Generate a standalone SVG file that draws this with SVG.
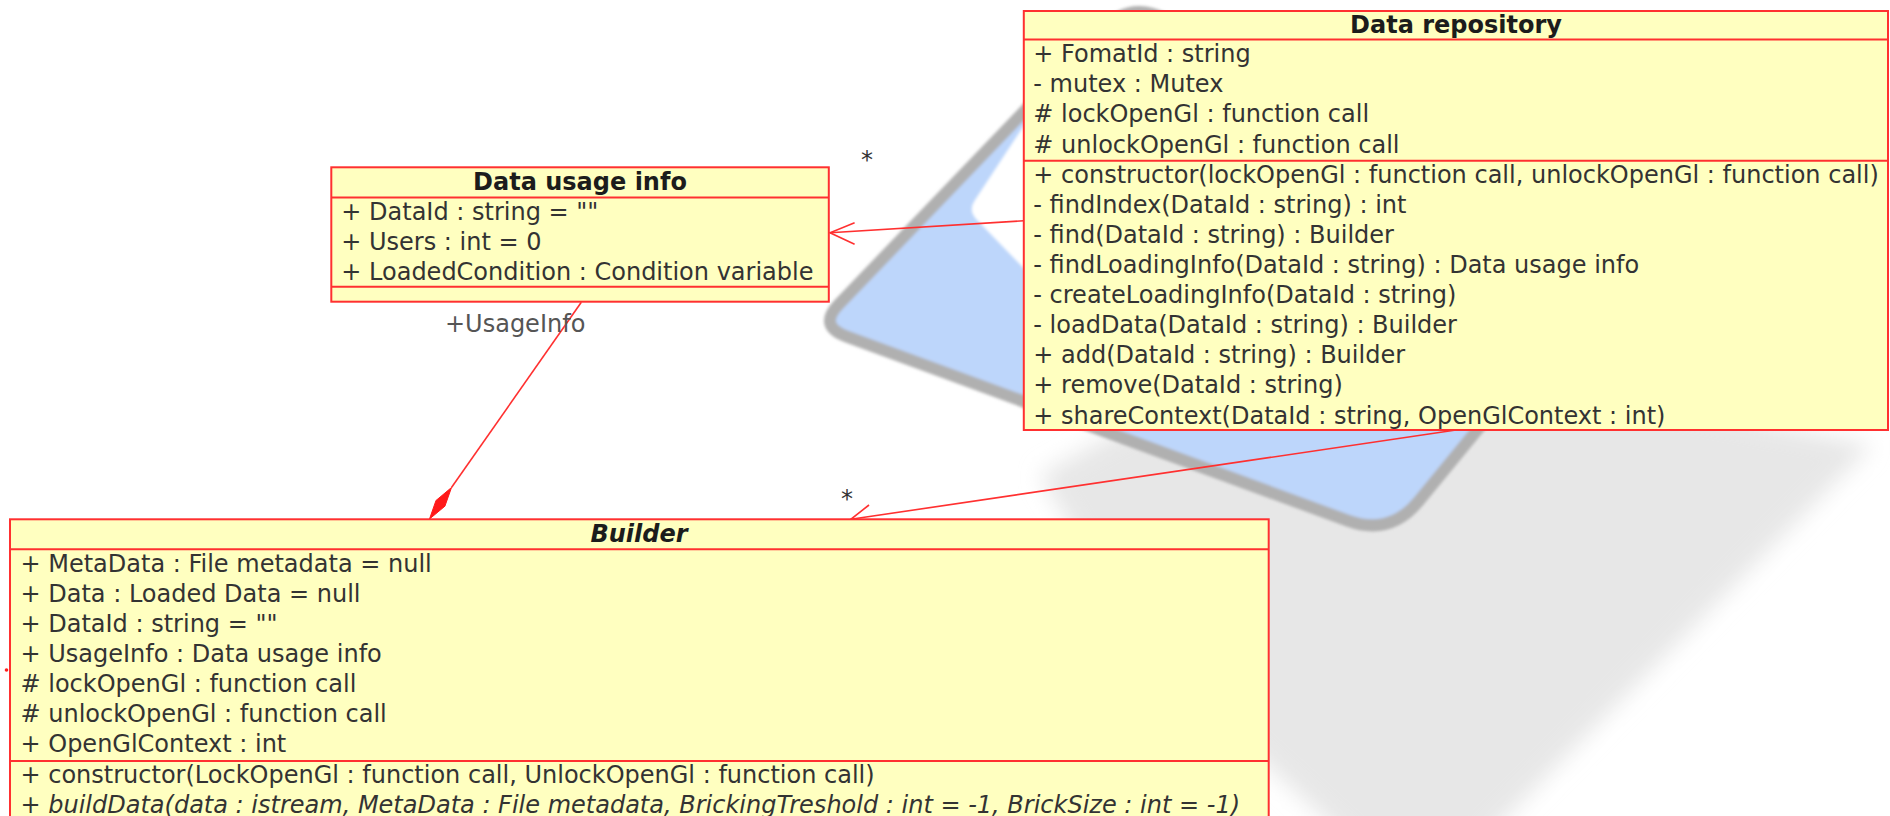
<svg xmlns="http://www.w3.org/2000/svg" width="1890" height="816" viewBox="0 0 1890 816">
  <style>
    .box { fill: #ffffc0; stroke: #ff3030; stroke-width: 2; }
    .sep { stroke: #ff3030; stroke-width: 2; }
    .txt { font-family: "DejaVu Sans", sans-serif; font-size: 24px; fill: #333333; }
    .ttl { font-family: "DejaVu Sans", sans-serif; font-size: 24px; font-weight: bold; fill: #1c1c1c; text-anchor: middle; }
    .abs { font-style: italic; }
    .edge { fill: none; stroke: #ff3030; stroke-width: 1.6; }
    .lbl { font-family: "DejaVu Sans", sans-serif; font-size: 24px; fill: #555555; }
    .mult { font-family: "DejaVu Sans", sans-serif; font-size: 24px; fill: #333333; text-anchor: middle; }
  </style>
  <defs>
    <filter id="soft" x="-20%" y="-20%" width="140%" height="140%">
      <feGaussianBlur stdDeviation="11"/>
    </filter>
    <filter id="edgeBlur" x="-10%" y="-10%" width="120%" height="120%">
      <feGaussianBlur stdDeviation="1.8"/>
    </filter>
  </defs>

  <rect width="1890" height="816" fill="#ffffff"/>

  <!-- background emblem: soft shadow, blue rounded frame, inner cut-out -->
  <g id="backdrop">
    <path d="M 1040,475 L 1300,330 L 1872,445 L 1420,905 L 1150,660 Z" fill="#e7e7e7" filter="url(#soft)"/>
    <path d="M 838.8,304.4 L 1102.4,30 Q 1130,1 1165.6,19.2 L 1625,250 L 1418.6,501.2 Q 1390,536 1347.7,520.6 L 846.2,336.3 Q 818,326 838.8,304.4 Z"
          fill="#bdd6fb" stroke="#b0b0b0" stroke-width="12" filter="url(#edgeBlur)"/>
    <path d="M 1040,101 L 975,200 Q 968,210 976,219 L 1040,285 Z" fill="#ffffff" filter="url(#edgeBlur)"/>
  </g>

  <!-- associations -->
  <g id="connectors">
    <!-- Data repository -> Data usage info -->
    <line class="edge" x1="1023.8" y1="220.8" x2="830" y2="232.7"/>
    <polyline class="edge" points="854.6,222.7 830,232.7 854.6,244.2"/>
    <text class="mult" x="867" y="168">*</text>
    <!-- Data repository -> Builder -->
    <line class="edge" x1="1456" y1="430" x2="850.8" y2="519.3"/>
    <polyline class="edge" points="869,505 850.8,519.3 872.3,527.7"/>
    <text class="mult" x="847" y="507">*</text>
    <!-- Builder composes Data usage info -->
    <line class="edge" x1="581.3" y1="302.3" x2="451.5" y2="487.5"/>
    <polygon points="429.5,519 436,500.5 451.5,487.5 444.9,506.2" fill="#ff1a1a" stroke="#ff1a1a" stroke-width="1"/>
    <text class="lbl" x="445" y="332">+UsageInfo</text>
    <!-- stray end point at the Builder's left side -->
    <circle cx="6.5" cy="670" r="1.8" fill="#ff2020"/>
  </g>

  <g id="data-usage-info">
    <rect class="box" x="331.3" y="167.3" width="497.5" height="134.4"/>
    <line class="sep" x1="331.3" y1="197.4" x2="828.8" y2="197.4"/>
    <line class="sep" x1="331.3" y1="286.7" x2="828.8" y2="286.7"/>
    <text class="ttl" x="580" y="190">Data usage info</text>
    <text class="txt" x="341.3" y="219.5">+ DataId : string = &quot;&quot;</text>
    <text class="txt" x="341.3" y="249.6">+ Users : int = 0</text>
    <text class="txt" x="341.3" y="279.7">+ LoadedCondition : Condition variable</text>
  </g>

  <g id="data-repository">
    <rect class="box" x="1023.8" y="11" width="864.2" height="419"/>
    <line class="sep" x1="1023.8" y1="39.4" x2="1888" y2="39.4"/>
    <line class="sep" x1="1023.8" y1="160.7" x2="1888" y2="160.7"/>
    <text class="ttl" x="1456" y="33">Data repository</text>
    <text class="txt" x="1033.3" y="62.1">+ FomatId : string</text>
    <text class="txt" x="1033.3" y="92.2">- mutex : Mutex</text>
    <text class="txt" x="1033.3" y="122.3"># lockOpenGl : function call</text>
    <text class="txt" x="1033.3" y="152.5"># unlockOpenGl : function call</text>
    <text class="txt" x="1033.3" y="182.6">+ constructor(lockOpenGl : function call, unlockOpenGl : function call)</text>
    <text class="txt" x="1033.3" y="212.7">- findIndex(DataId : string) : int</text>
    <text class="txt" x="1033.3" y="242.8">- find(DataId : string) : Builder</text>
    <text class="txt" x="1033.3" y="272.9">- findLoadingInfo(DataId : string) : Data usage info</text>
    <text class="txt" x="1033.3" y="303.1">- createLoadingInfo(DataId : string)</text>
    <text class="txt" x="1033.3" y="333.2">- loadData(DataId : string) : Builder</text>
    <text class="txt" x="1033.3" y="363.3">+ add(DataId : string) : Builder</text>
    <text class="txt" x="1033.3" y="393.4">+ remove(DataId : string)</text>
    <text class="txt" x="1033.3" y="423.5">+ shareContext(DataId : string, OpenGlContext : int)</text>
  </g>

  <g id="builder">
    <rect class="box" x="10" y="519.3" width="1258.7" height="320"/>
    <line class="sep" x1="10" y1="549.3" x2="1268.7" y2="549.3"/>
    <line class="sep" x1="10" y1="761" x2="1268.7" y2="761"/>
    <text class="ttl abs" x="639" y="542">Builder</text>
    <text class="txt" x="20.5" y="571.8">+ MetaData : File metadata = null</text>
    <text class="txt" x="20.5" y="601.9">+ Data : Loaded Data = null</text>
    <text class="txt" x="20.5" y="632">+ DataId : string = &quot;&quot;</text>
    <text class="txt" x="20.5" y="662.1">+ UsageInfo : Data usage info</text>
    <text class="txt" x="20.5" y="692.2"># lockOpenGl : function call</text>
    <text class="txt" x="20.5" y="722.3"># unlockOpenGl : function call</text>
    <text class="txt" x="20.5" y="752.4">+ OpenGlContext : int</text>
    <text class="txt" x="20.5" y="782.5">+ constructor(LockOpenGl : function call, UnlockOpenGl : function call)</text>
    <text class="txt abs" x="20.5" y="812.6">+ buildData(data : istream, MetaData : File metadata, BrickingTreshold : int = -1, BrickSize : int = -1)</text>
  </g>
</svg>
